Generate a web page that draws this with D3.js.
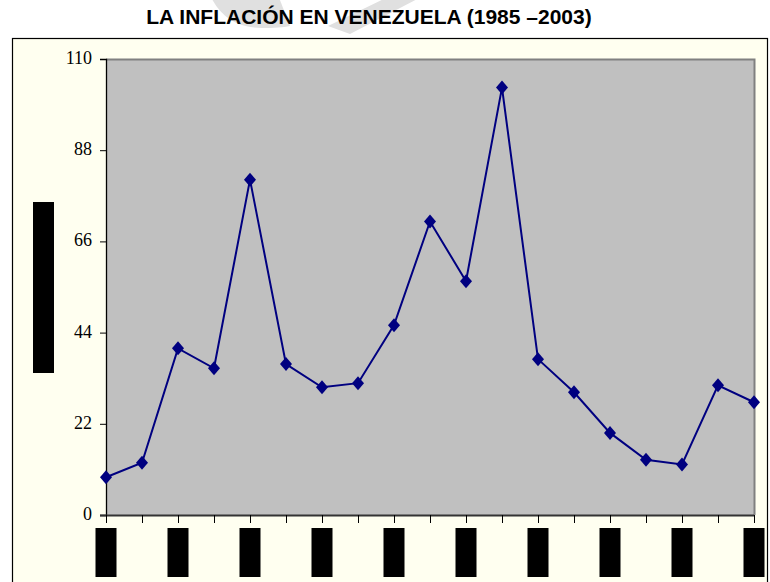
<!DOCTYPE html>
<html>
<head>
<meta charset="utf-8">
<script src="https://cdn.jsdelivr.net/npm/d3@7"></script>
<style>
  body { margin: 0; background: #fff; }
</style>
</head>
<body>
<div id="chart"></div>
<script>
// chart data
var years = [1985, 1986, 1987, 1988, 1989, 1990, 1991, 1992, 1993, 1994,
             1995, 1996, 1997, 1998, 1999, 2000, 2001, 2002, 2003];
var inflation = [9.1, 12.6, 40.2, 35.4, 80.9, 36.4, 30.8, 31.8, 45.8, 70.8,
                 56.4, 103.1, 37.6, 29.6, 19.8, 13.3, 12.2, 31.3, 27.2];
var yTicks = [0, 22, 44, 66, 88, 110];
// every other year carries a (redacted) label
var labelYears = years.filter(function(d, i) { return i % 2 == 0; });

var width = 770, height = 582;
var margin = {top: 59, right: 16, bottom: 67, left: 106};

var svg = d3.select("#chart").append("svg")
    .attr("width", width)
    .attr("height", height);

// faint watermark
svg.append("path")
    .attr("d", "M210,-5 Q225,28 262,28 Q280,28 290,26 L278,-5 Z")
    .attr("fill", "#e0e0e0");
svg.append("path")
    .attr("d", "M328,26 L350,34 L425,-5 L392,-5 Z")
    .attr("fill", "#e0e0e0");

// title
svg.append("text")
    .attr("x", 369)
    .attr("y", 24)
    .attr("text-anchor", "middle")
    .style("font-family", "Liberation Sans, Arial, sans-serif")
    .style("font-weight", "bold")
    .style("font-size", "21px")
    .text("LA INFLACIÓN EN VENEZUELA (1985 –2003)");

// chart frame
svg.append("rect")
    .attr("x", 12.5)
    .attr("y", 38.5)
    .attr("width", 755)
    .attr("height", 560)
    .attr("fill", "#fffff0")
    .attr("stroke", "#000")
    .attr("stroke-width", 1.2);

var x = d3.scalePoint()
    .domain(years)
    .range([0, 648]);

var y = d3.scaleLinear()
    .domain([0, 110])
    .range([456, 0]);

var g = svg.append("g")
    .attr("transform", "translate(" + margin.left + "," + margin.top + ")");

// plot area
g.append("rect")
    .attr("x", 0)
    .attr("y", 0)
    .attr("width", 648)
    .attr("height", 456)
    .attr("fill", "#c0c0c0");
g.append("path")
    .attr("d", "M0,0.5 H648.5 V456")
    .attr("fill", "none")
    .attr("stroke", "#808080")
    .attr("stroke-width", 2);

// y axis
var yAxis = g.append("g")
    .call(d3.axisLeft(y).tickValues(yTicks).tickSize(6).tickPadding(8));
yAxis.select(".domain").attr("stroke", "#000").attr("stroke-width", 1.3);
yAxis.selectAll("text")
    .attr("dy", "0.25em")
    .style("font-family", "Liberation Serif, Times New Roman, serif")
    .style("font-size", "18px")
    .attr("fill", "#000");

// x axis
var xAxis = g.append("g")
    .attr("transform", "translate(0," + 456 + ")")
    .call(d3.axisBottom(x).tickSize(8).tickFormat(""));
xAxis.select(".domain")
    .attr("d", "M-6,0.5H648")
    .attr("stroke", "#333")
    .attr("stroke-width", 2);
xAxis.selectAll(".tick line").attr("stroke", "#000");

// redacted x labels
g.selectAll("rect.xlabel")
    .data(labelYears)
    .enter().append("rect")
    .attr("class", "xlabel")
    .attr("x", function(d) { return x(d) - 10.5; })
    .attr("y", 469)
    .attr("width", 21)
    .attr("height", 49)
    .attr("fill", "#000");

// redacted y axis title
svg.append("rect")
    .attr("x", 33)
    .attr("y", 202)
    .attr("width", 21)
    .attr("height", 171)
    .attr("fill", "#000");

// line
var line = d3.line()
    .x(function(d, i) { return x(years[i]); })
    .y(function(d) { return y(d); });

g.append("path")
    .datum(inflation)
    .attr("d", line)
    .attr("fill", "none")
    .attr("stroke", "#000080")
    .attr("stroke-width", 2);

// diamond markers
g.selectAll("path.marker")
    .data(inflation)
    .enter().append("path")
    .attr("class", "marker")
    .attr("transform", function(d, i) {
        return "translate(" + x(years[i]) + "," + y(d) + ")";
    })
    .attr("d", "M0,-7L6,0L0,7L-6,0Z")
    .attr("fill", "#000080");
</script>
</body>
</html>
